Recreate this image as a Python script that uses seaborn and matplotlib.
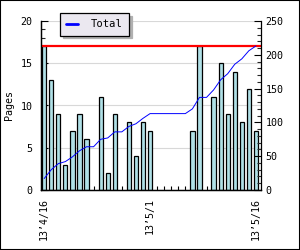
import matplotlib
matplotlib.use("Agg")
import matplotlib.pyplot as plt
from matplotlib.patches import Rectangle
from matplotlib.ticker import MultipleLocator
import numpy as np
import pandas as pd
import seaborn as sns

# ---- data ----
start_date = "2013-04-16"
pages = [17, 13, 9, 3, 7, 9, 6, 0, 11, 2, 9, 0, 8, 4, 8, 7,
         0, 0, 0, 0, 0, 7, 17, 0, 11, 15, 9, 14, 8, 12, 7]
tick_days = [0, 15, 30]
tick_labels = ["13’4/16", "13’5/1", "13’5/16"]
series_name = "Total"

days = np.arange(len(pages))
cumulative = np.cumsum(pages)
df = pd.DataFrame({"day": days, "pages": pages, "total": cumulative})
bars = df[df["pages"] > 0]

sns.set_theme(style="white")
plt.rcParams["font.family"] = ["DejaVu Sans Mono", "DejaVu Sans"]
FS = 7.2

fig = plt.figure(figsize=(3.0, 2.5), dpi=100)
fig.patch.set_facecolor("white")
ax = fig.add_axes([41 / 300, 1 - 190 / 250, 220 / 300, 169 / 250])
ax2 = ax.twinx()

sns.barplot(data=bars, x="day", y="pages", native_scale=True, ax=ax,
            color="#b0e0e6", saturation=1, edgecolor="black",
            linewidth=0.9, width=0.6, errorbar=None, zorder=2)
ax.axhline(max(pages), color="#ff0000", lw=1.6, zorder=3)

sns.lineplot(data=df, x="day", y="total", ax=ax2, color="#0000ff",
             lw=0.7, label=series_name, zorder=4)

ax.set_xlim(-0.45, 30.72)
ax.set_ylim(0, 20)
ax2.set_ylim(0, 250)

ax.set_axisbelow(True)
ax.yaxis.set_major_locator(MultipleLocator(5))
ax.yaxis.set_minor_locator(MultipleLocator(1))
ax.grid(axis="y", which="major", color="#d8d8d8", lw=0.8)
ax.grid(axis="x", visible=False)
ax2.yaxis.set_major_locator(MultipleLocator(50))
ax2.yaxis.set_minor_locator(MultipleLocator(10))
ax2.grid(False)

ax.set_xticks(days, minor=True)
ax.set_xticks(tick_days)
ax.set_xticklabels(tick_labels, rotation=90, fontsize=FS)

ax.tick_params(axis="y", which="major", direction="in", length=5, width=0.8,
               left=True, labelsize=FS, pad=6.2, colors="black")
ax.tick_params(axis="y", which="minor", direction="in", length=3, width=0.8,
               left=True)
ax.tick_params(axis="x", which="both", direction="in", length=3, width=0.8,
               bottom=True, labelsize=FS, pad=5.5, colors="black")
ax2.tick_params(axis="y", which="major", direction="in", length=5, width=0.8,
                right=True, labelsize=FS, pad=3.4, colors="black")
ax2.tick_params(axis="y", which="minor", direction="in", length=3, width=0.8,
                right=True)

for a in (ax, ax2):
    a.spines["top"].set_visible(False)
    for s in ("left", "right", "bottom"):
        a.spines[s].set_color("black")
        a.spines[s].set_linewidth(0.9)
ax.spines["right"].set_visible(False)

ax.set_xlabel("")
ax2.set_ylabel("")
ax.set_ylabel("Pages", fontsize=FS, color="black")
ax.yaxis.set_label_coords(-0.125, 0.5)

leg = ax2.legend(loc="upper left", bbox_to_anchor=(60 / 300, 1 - 13 / 250),
                 bbox_transform=fig.transFigure, borderaxespad=0,
                 fancybox=False, frameon=True, edgecolor="black",
                 facecolor="#ebe8f0", framealpha=1, fontsize=7.6,
                 handlelength=1.1, handletextpad=1.2, borderpad=0.6,
                 shadow={"color": "#b0b0b0", "alpha": 1})
leg.get_frame().set_linewidth(0.9)
for h in leg.get_lines():
    h.set_linewidth(2)
for t in leg.get_texts():
    t.set_color("black")

fig.add_artist(Rectangle((0, 0), 1, 1, transform=fig.transFigure,
                         fill=False, edgecolor="black", lw=1.5))

fig.savefig("out.png", dpi=100)
